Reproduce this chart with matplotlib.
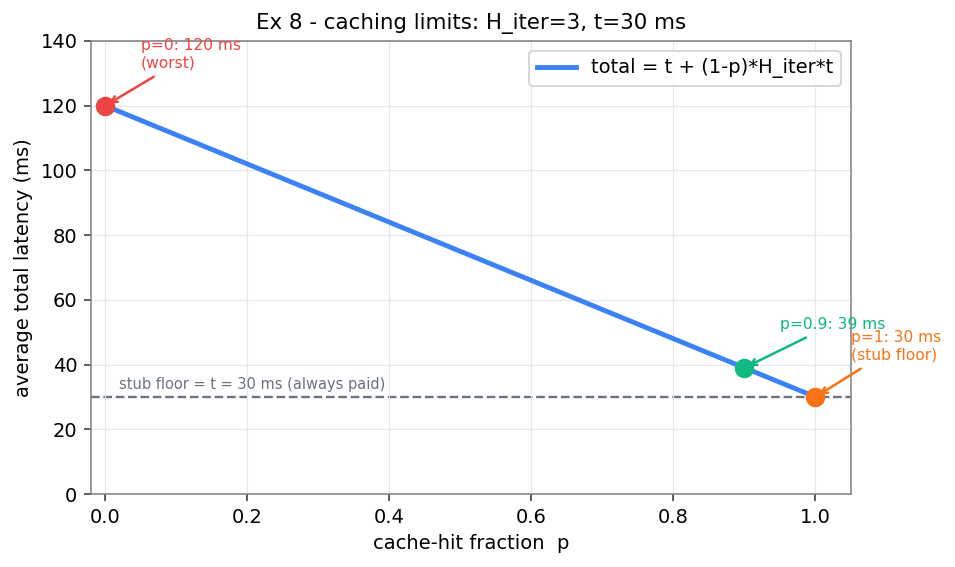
import numpy as np
import matplotlib
matplotlib.use("Agg")
import matplotlib.pyplot as plt

# chart data
p_vals = [0.0, 0.9, 1.0]
latency = [120, 39, 30]
stub_floor = 30
point_labels = ["p=0: 120 ms\n(worst)", "p=0.9: 39 ms", "p=1: 30 ms\n(stub floor)"]
point_colors = ["#ef4444", "#10b981", "#f97316"]
label_pos = [(0.05, 131.7), (0.95, 51), (1.05, 41.5)]

fig, ax = plt.subplots(figsize=(955 / 140, 567 / 140), dpi=140)

ax.plot([p_vals[0], p_vals[-1]], [latency[0], latency[-1]], color="#3b82f6", lw=2.5,
        label="total = t + (1-p)*H_iter*t", zorder=2)
ax.axhline(stub_floor, color="#6b7280", ls="--", lw=1.2, zorder=1)
ax.text(0.02, stub_floor + 2.3, "stub floor = t = 30 ms (always paid)", fontsize=7.5,
        color="#6b7280")

for x, y, lab, c, pos in zip(p_vals, latency, point_labels, point_colors, label_pos):
    ax.plot(x, y, "o", color=c, ms=9, zorder=3)
    ax.annotate(lab, xy=(x, y), xytext=pos, color=c, fontsize=8,
                arrowprops=dict(arrowstyle="->", color=c, lw=1.3))

ax.set_xlim(-0.02, 1.05)
ax.set_ylim(0, 140)
ax.set_xlabel("cache-hit fraction  p", fontsize=10)
ax.set_ylabel("average total latency (ms)", fontsize=10)
ax.set_title("Ex 8 - caching limits: H_iter=3, t=30 ms", fontsize=11)
ax.grid(True, color="#e5e7eb", lw=0.6)
for s in ax.spines.values():
    s.set_color("#808080")
ax.tick_params(colors="#333333", labelcolor="black", labelsize=10)
ax.legend(loc="upper right", fontsize=10)

fig.subplots_adjust(left=91 / 955, right=851 / 955, top=1 - 41 / 567, bottom=1 - 494 / 567)
fig.savefig("out.png", dpi=140)
